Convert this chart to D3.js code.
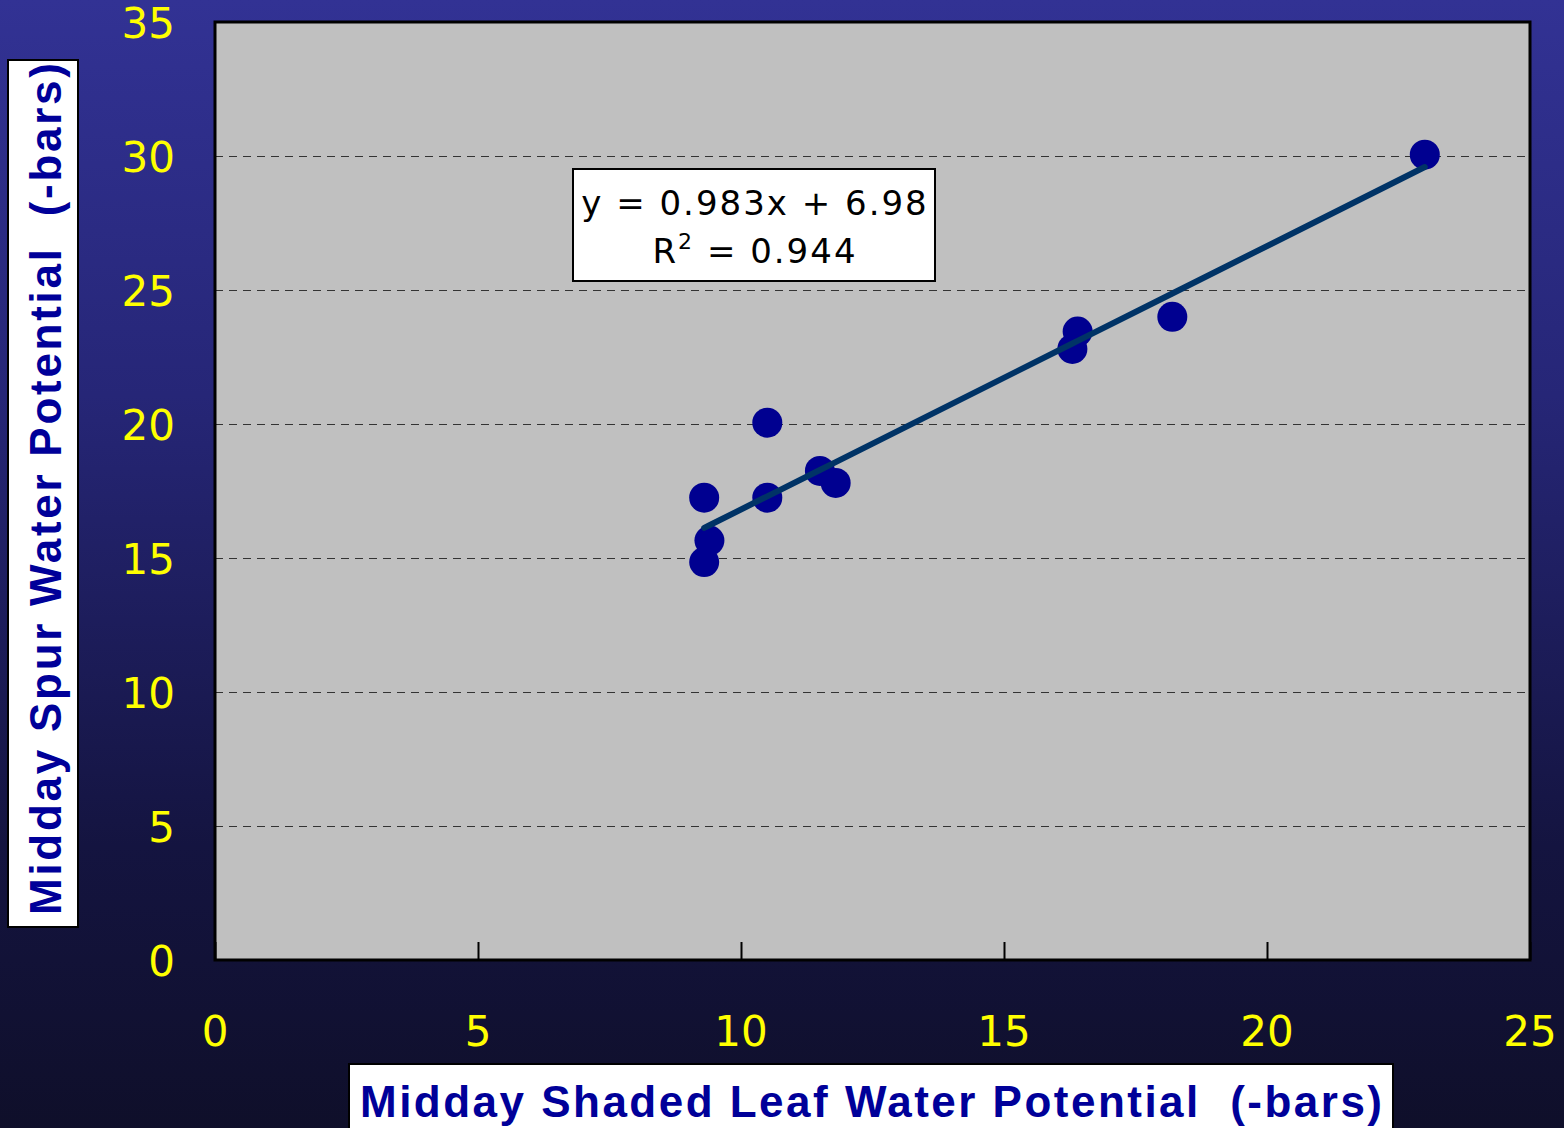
<!DOCTYPE html>
<html>
<head>
<meta charset="utf-8">
<script src="https://cdn.jsdelivr.net/npm/d3@7"></script>
<style>
  body { margin: 0; background: #0f0f2a; }
  svg { display: block; }
  text { font-family: "DejaVu Sans", Verdana, sans-serif; }
</style>
</head>
<body>
<div class="chart"></div>
<script>
// leaf water potential (x) vs spur water potential (y), -bars
const leafPotential = [23.0, 18.2, 16.4, 16.3, 10.5, 11.5, 11.8, 10.5, 9.3, 9.4, 9.3]
const spurPotential = [30.05, 24.0, 23.45, 22.8, 20.05, 18.25, 17.8, 17.25, 17.25, 15.65, 14.85]
const xTicks = [0, 5, 10, 15, 20, 25]
const yTicks = [0, 5, 10, 15, 20, 25, 30, 35]
const slope = 0.983, intercept = 6.98

const data = leafPotential.map((x, i) => ({x: x, y: spurPotential[i]}))

const W = 1564, H = 1128
const margin = ({top: 22, right: 34, bottom: 168, left: 215})
const width = W - margin.left - margin.right,
height = H - margin.top - margin.bottom;

const svg = d3.select(".chart").append("svg")
    .attr("width", W)
    .attr("height", H)

const defs = svg.append("defs")
const grad = defs.append("linearGradient")
    .attr("id", "bg").attr("x1", 0).attr("y1", 0).attr("x2", 0).attr("y2", 1)
grad.append("stop").attr("offset", "0%").attr("stop-color", "#323294")
grad.append("stop").attr("offset", "35%").attr("stop-color", "#262677")
grad.append("stop").attr("offset", "75%").attr("stop-color", "#141440")
grad.append("stop").attr("offset", "100%").attr("stop-color", "#0f0f2a")

svg.append("rect").attr("width", W).attr("height", H).attr("fill", "url(#bg)")

const g = svg.append("g")
    .attr("transform", "translate(" + margin.left + "," + margin.top + ")");

const xScale = d3.scaleLinear().domain([0, 25]).range([0, width])
const yScale = d3.scaleLinear().domain([0, 35]).range([height, 0])

g.append("rect")
    .attr("width", width).attr("height", height)
    .attr("fill", "#c0c0c0")

// dashed gridlines
g.append("g")
    .selectAll("line")
    .data(yTicks.filter(d => d > 0 && d < 35))
    .enter()
    .append("line")
    .attr("x1", 0).attr("x2", width)
    .attr("y1", d => Math.round(yScale(d)) + 0.5).attr("y2", d => Math.round(yScale(d)) + 0.5)
    .attr("stroke", "#333")
    .attr("stroke-width", 1)
    .attr("shape-rendering", "crispEdges")
    .attr("stroke-dasharray", "8,6")

g.append("rect")
    .attr("width", width).attr("height", height)
    .attr("fill", "none")
    .attr("stroke", "#000")
    .attr("stroke-width", 3)

// x axis: inward ticks
const xAxis = d3.axisBottom(xScale).tickValues(xTicks).tickSize(-18).tickFormat("")
const xg = g.append("g")
    .attr("transform", `translate(0, ${height})`)
    .call(xAxis)
xg.select(".domain").remove()
xg.selectAll("line").attr("stroke", "#000").attr("stroke-width", 2)

g.append("g").selectAll("text")
    .data(xTicks)
    .enter()
    .append("text")
    .attr("x", d => xScale(d))
    .attr("y", height + 86)
    .attr("text-anchor", "middle")
    .attr("fill", "#ffff00")
    .attr("font-size", 42)
    .text(d => d)

g.append("g").selectAll("text")
    .data(yTicks)
    .enter()
    .append("text")
    .attr("x", -40)
    .attr("y", d => yScale(d))
    .attr("dy", "0.38em")
    .attr("text-anchor", "end")
    .attr("fill", "#ffff00")
    .attr("font-size", 42)
    .text(d => d)

// trend line through fitted values
const fit = data.map(d => d.x).sort((a, b) => a - b).map(x => ({x: x, y: slope * x + intercept}))
const line = d3.line()
    .x(d => xScale(d.x))
    .y(d => yScale(d.y));

g.selectAll("circle")
    .data(data)
    .enter()
    .append("circle")
    .attr("cx", d => xScale(d.x))
    .attr("cy", d => yScale(d.y))
    .attr("r", 15)
    .attr("fill", "#000090")

g.append("path")
    .datum(fit)
    .attr("fill", "none")
    .attr("stroke", "#003366")
    .attr("stroke-width", 6)
    .attr("stroke-linecap", "round")
    .attr("d", line);

// equation box
g.append("rect")
    .attr("x", 573 - margin.left).attr("y", 169 - margin.top)
    .attr("width", 362).attr("height", 112)
    .attr("fill", "#fff").attr("stroke", "#000").attr("stroke-width", 2)
g.append("text")
    .attr("x", 755 - margin.left).attr("y", 215 - margin.top)
    .attr("text-anchor", "middle")
    .attr("font-size", 34)
    .attr("letter-spacing", 2)
    .style("white-space", "pre")
    .attr("fill", "#000")
    .text("y = 0.983x + 6.98")
const r2 = g.append("text")
    .attr("x", 755 - margin.left).attr("y", 263 - margin.top)
    .attr("text-anchor", "middle")
    .attr("font-size", 34)
    .attr("letter-spacing", 2)
    .style("white-space", "pre")
    .attr("fill", "#000")
r2.append("tspan").text("R")
r2.append("tspan").attr("dy", -14).attr("font-size", 22).text("2")
r2.append("tspan").attr("dy", 14).text(" = 0.944")

// axis title boxes
svg.append("rect")
    .attr("x", 8).attr("y", 60).attr("width", 70).attr("height", 867)
    .attr("fill", "#fff").attr("stroke", "#000").attr("stroke-width", 2)
svg.append("text")
    .attr("transform", "translate(61, 489) rotate(-90)")
    .attr("text-anchor", "middle")
    .style("font-family", "'Liberation Sans', Arial, sans-serif")
    .style("font-size", "44px")
    .style("font-weight", "bold")
    .attr("textLength", 852)
    .attr("lengthAdjust", "spacing")
    .style("white-space", "pre")
    .attr("fill", "#000099")
    .text("Midday Spur Water Potential  (-bars)")

svg.append("rect")
    .attr("x", 349).attr("y", 1064).attr("width", 1044).attr("height", 80)
    .attr("fill", "#fff").attr("stroke", "#000").attr("stroke-width", 2)
svg.append("text")
    .attr("x", 871).attr("y", 1117)
    .attr("text-anchor", "middle")
    .style("font-family", "'Liberation Sans', Arial, sans-serif")
    .style("font-size", "44px")
    .style("font-weight", "bold")
    .attr("textLength", 1022)
    .attr("lengthAdjust", "spacing")
    .style("white-space", "pre")
    .attr("fill", "#000099")
    .text("Midday Shaded Leaf Water Potential  (-bars)")
</script>
</body>
</html>
